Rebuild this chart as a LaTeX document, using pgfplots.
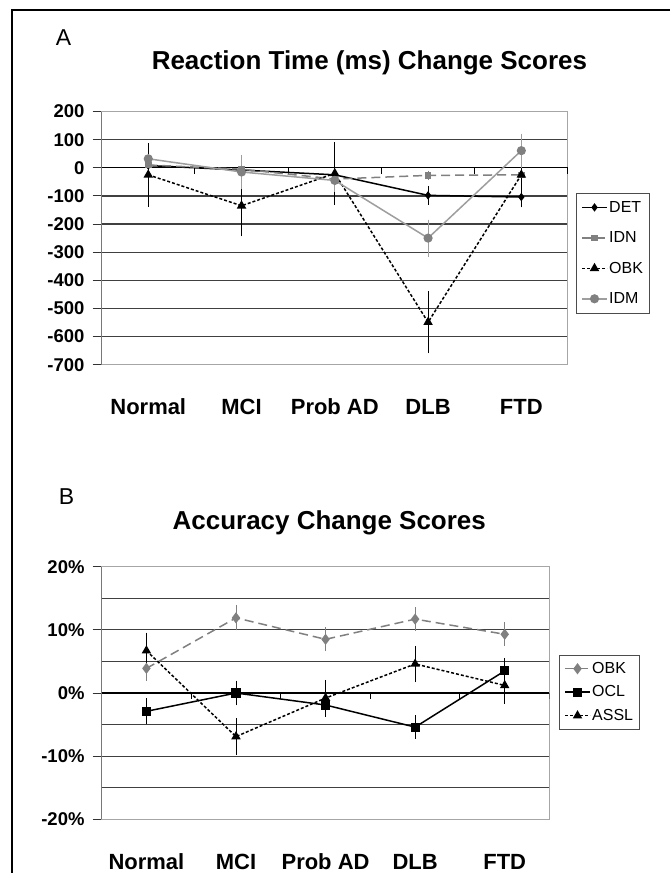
\documentclass[border=0pt]{standalone}
\usepackage{pgfplots}
\pgfplotsset{compat=1.18}
\usepackage{fontspec}
\setmainfont{Liberation Sans}
\begin{document}
\pgfplotsset{
  panel/.style={
    scale only axis,
    xmin=-0.5, xmax=4.5,
    xtick={0,1,2,3,4},
    xticklabels={Normal,MCI,Prob AD,DLB,FTD},
    x tick style={draw=none},
    xticklabel style={font=\bfseries\fontsize{22}{22}\selectfont, anchor=base, yshift=-41pt},
    yticklabel style={font=\bfseries\fontsize{18.5}{18.5}\selectfont, anchor=east, inner sep=0pt, xshift=-8pt},
    ytick pos=left,
    tick align=outside,
    major tick length=9pt,
    minor tick length=0pt,
    ymajorgrids,
    grid style={black!75, line width=1.3pt},
    axis line style={black!35, line width=1pt},
    y tick style={black!80, line width=1pt},
    legend cell align=left,
    legend image code/.code={\draw[mark repeat=2,mark phase=2,##1] plot coordinates {(0pt,0pt) (12.5pt,0pt) (25pt,0pt)};},
    error bars/y dir=both, error bars/y explicit,
    error bars/error bar style={line width=0.9pt, solid},
    error bars/error mark options={line width=0.9pt, mark size=3pt, solid},
  },
}
\begin{tikzpicture}
\path[fill=white] (0pt,0pt) rectangle (668pt,874pt);
\draw[line width=2.5pt] (668pt,864pt) -- (9pt,864pt) -- (9pt,0pt);
% panel labels and titles
\node[anchor=base west, inner sep=0pt, font=\fontsize{23}{23}\selectfont] at (53pt,828pt) {A};
\node[anchor=base west, inner sep=0pt, font=\bfseries\fontsize{26}{26}\selectfont] at (149pt,804pt) {Reaction Time (ms) Change Scores};
\node[anchor=base west, inner sep=0pt, font=\fontsize{23}{23}\selectfont] at (56pt,369pt) {B};
\node[anchor=base west, inner sep=0pt, font=\bfseries\fontsize{26}{26}\selectfont] at (170pt,344pt) {Accuracy Change Scores};

% ---------------- Panel A ----------------
\begin{axis}[panel,
  at={(99pt,508.8pt)}, anchor=south west,
  width=467pt, height=253.5pt,
  ymin=-700, ymax=200,
  ytick={-700,-600,-500,-400,-300,-200,-100,0,100,200},
  yticklabels={-700,-600,-500,-400,-300,-200,-100,0,100,200},
  legend style={at={(1.017,0.679)}, anchor=north west, draw=black!70, line width=0.8pt,
    font=\fontsize{16}{16}\selectfont, row sep=14pt, inner xsep=5pt, inner ysep=6pt,
    nodes={inner sep=1.5pt, text height=11.5pt, text depth=2pt}},
]
\draw[black!85, line width=1.2pt] (rel axis cs:0,0) -- (rel axis cs:0,1);
\draw[black, line width=1.3pt] (axis cs:-0.5,0) -- (axis cs:4.5,0);
\draw[black, line width=1pt] (axis cs:0.5,0) -- ++(0pt,-6pt);
\draw[black, line width=1pt] (axis cs:1.5,0) -- ++(0pt,-6pt);
\draw[black, line width=1pt] (axis cs:2.5,0) -- ++(0pt,-6pt);
\draw[black, line width=1pt] (axis cs:3.5,0) -- ++(0pt,-6pt);
\draw[black, line width=1pt] (axis cs:4.5,0) -- ++(0pt,-6pt);
% DET
\addplot[black, line width=1.5pt, mark=diamond*, mark size=3pt, mark options={solid}]
  coordinates {(0,8) +- (0,15) (1,-8) +- (0,36) (2,-25) +- (0,25) (3,-98) +- (0,23) (4,-104) +- (0,23)};
% IDN
\addplot[black!50, line width=1.5pt, dash pattern=on 9pt off 5pt, mark=square*, mark size=2.5pt, mark options={solid}]
  coordinates {(0,10) +- (0,8) (1,-5) +- (0,10) (2,-40) +- (0,10) (3,-27) +- (0,6) (4,-25) +- (0,8)};
% OBK
\addplot[black, line width=1.5pt, dash pattern=on 3pt off 2pt, mark=triangle*, mark size=4pt, mark options={solid}]
  coordinates {(0,-25) +- (0,103) (1,-135) +- (0,98) (2,-20) +- (0,100) (3,-549) +- (0,100) (4,-25) +- (0,105)};
% IDM
\addplot[black!38, line width=1.5pt, mark=*, mark size=3.8pt, mark options={solid, fill=black!50, draw=black!50}]
  coordinates {(0,32) +- (0,8) (1,-15) +- (0,50) (2,-45) +- (0,30) (3,-250) +- (0,55) (4,61) +- (0,50)};
\legend{DET,IDN,OBK,IDM}
\end{axis}

% ---------------- Panel B ----------------
\begin{axis}[panel,
  at={(99pt,53.5pt)}, anchor=south west,
  width=448.5pt, height=253pt,
  ymin=-20, ymax=20,
  ytick={-20,-10,0,10,20},
  yticklabels={-20\%,-10\%,0\%,10\%,20\%},
  minor ytick={-15,-5,5,15},
  yminorgrids,
  minor grid style={black!75, line width=1.3pt},
  legend style={at={(1.021,0.650)}, anchor=north west, draw=black!70, line width=0.8pt,
    font=\fontsize{16}{16}\selectfont, row sep=7pt, inner xsep=5pt, inner ysep=5pt,
    nodes={inner sep=1.5pt, text height=11.5pt, text depth=2pt}},
]
\draw[black!85, line width=1.2pt] (rel axis cs:0,0) -- (rel axis cs:0,1);
\draw[black, line width=1.3pt] (axis cs:-0.5,0) -- (axis cs:4.5,0);
\draw[black, line width=1pt] (axis cs:0.5,0) -- ++(0pt,-6pt);
\draw[black, line width=1pt] (axis cs:1.5,0) -- ++(0pt,-6pt);
\draw[black, line width=1pt] (axis cs:2.5,0) -- ++(0pt,-6pt);
\draw[black, line width=1pt] (axis cs:3.5,0) -- ++(0pt,-6pt);
\draw[black, line width=1pt] (axis cs:4.5,0) -- ++(0pt,-6pt);
% OBK
\addplot[black!50, line width=1.5pt, dash pattern=on 9pt off 5pt, mark=diamond*, mark size=4.4pt, mark options={solid}]
  coordinates {(0,3.9) +- (0,1.5) (1,11.9) +- (0,1.5) (2,8.5) +- (0,1.4) (3,11.7) +- (0,1.4) (4,9.3) +- (0,1.4)};
% OCL
\addplot[black, line width=1.5pt, mark=square*, mark size=3.8pt, mark options={solid}]
  coordinates {(0,-2.9) +- (0,1.6) (1,0) +- (0,1.5) (2,-1.9) +- (0,1.4) (3,-5.4) +- (0,1.4) (4,3.5) +- (0,1.5)};
% ASSL
\addplot[black, line width=1.5pt, dash pattern=on 3pt off 2pt, mark=triangle*, mark size=4pt, mark options={solid}]
  coordinates {(0,6.7) +- (0,2.4) (1,-6.9) +- (0,2.4) (2,-0.8) +- (0,2.4) (3,4.6) +- (0,2.4) (4,1.2) +- (0,2.4)};
\legend{OBK,OCL,ASSL}
\end{axis}
\end{tikzpicture}
\end{document}
